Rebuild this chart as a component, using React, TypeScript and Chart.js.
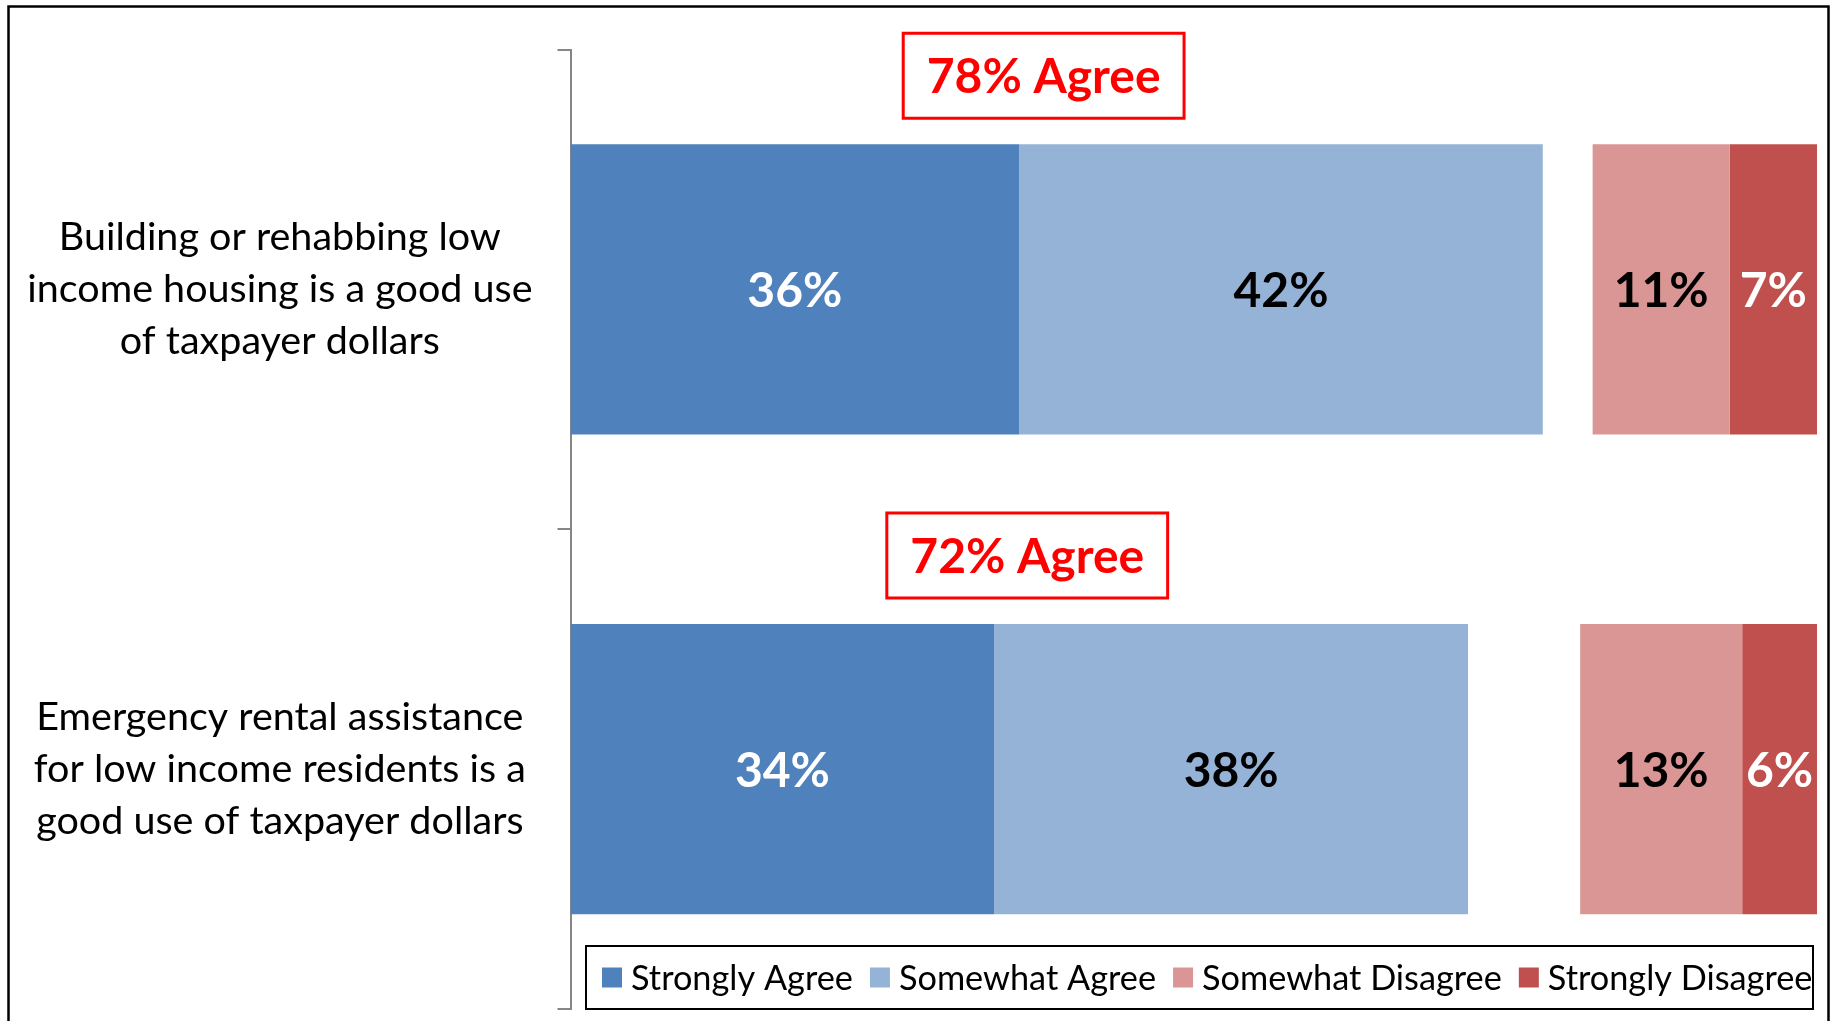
import React, { useEffect, useRef } from "react";
import { Chart, registerables } from "chart.js";

Chart.register(...registerables);

// ---------- data ----------
const categories: string[][] = [
  ["Building or rehabbing low", "income housing is a good use", "of taxpayer dollars"],
  ["Emergency rental assistance", "for low income residents is a", "good use of taxpayer dollars"],
];
const seriesNames = ["Strongly Agree", "Somewhat Agree", "Don't Know", "Somewhat Disagree", "Strongly Disagree"];
const stronglyAgree = [36, 34];
const somewhatAgree = [42, 38];
const dontKnow = [4, 9];
const somewhatDisagree = [11, 13];
const stronglyDisagree = [7, 6];

// ---------- styles ----------
const FONT = "Lato, 'Open Sans', 'DejaVu Sans', sans-serif";
const seriesColors = ["#4F81BD", "#95B3D7", "rgba(0,0,0,0)", "#DA9694", "#C0504D"];
const labelColors = ["#FFFFFF", "#000000", "", "#000000", "#FFFFFF"];
const hiddenSeries = [false, false, true, false, false];
const calloutNudge = [-13, 8];

const framePlugin = {
  id: "frame",
  beforeDraw(chart: any) {
    const ctx = chart.ctx;
    ctx.save();
    ctx.fillStyle = "#FFFFFF";
    ctx.fillRect(0, 0, chart.width, chart.height);
    ctx.strokeStyle = "#000000";
    ctx.lineWidth = 2.5;
    ctx.strokeRect(8.5, 6.5, 1820, chart.height + 20);
    ctx.restore();
  },
};

const dataLabelPlugin = {
  id: "dataLabels",
  afterDatasetsDraw(chart: any) {
    const ctx = chart.ctx;
    ctx.save();
    ctx.font = `bold 48px ${FONT}`;
    ctx.textAlign = "center";
    ctx.textBaseline = "middle";
    chart.data.datasets.forEach((ds: any, di: number) => {
      if (hiddenSeries[di]) return;
      const meta = chart.getDatasetMeta(di);
      meta.data.forEach((el: any, i: number) => {
        const v = ds.data[i];
        const cx = (el.x + el.base) / 2;
        ctx.fillStyle = labelColors[di];
        ctx.fillText(`${v}%`, cx, el.y + 2);
      });
    });
    ctx.restore();
  },
};

const calloutPlugin = {
  id: "callouts",
  afterDatasetsDraw(chart: any) {
    const ctx = chart.ctx;
    const m0 = chart.getDatasetMeta(0);
    const m1 = chart.getDatasetMeta(1);
    ctx.save();
    ctx.font = `bold 48px ${FONT}`;
    ctx.textAlign = "center";
    ctx.textBaseline = "middle";
    categories.forEach((_, i) => {
      const a = m0.data[i];
      const b = m1.data[i];
      const total = stronglyAgree[i] + somewhatAgree[i];
      const text = `${total}% Agree`;
      const cx = (a.base + b.x) / 2 + calloutNudge[i];
      const barTop = a.y - a.height / 2;
      const h = 85;
      const w = ctx.measureText(text).width + 47;
      const top = barTop - 26 - h;
      ctx.fillStyle = "#FFFFFF";
      ctx.fillRect(cx - w / 2, top, w, h);
      ctx.strokeStyle = "#FF0000";
      ctx.lineWidth = 3;
      ctx.strokeRect(cx - w / 2, top, w, h);
      ctx.fillStyle = "#FF0000";
      ctx.fillText(text, cx, top + h / 2 + 2);
    });
    ctx.restore();
  },
};

const legendBoxPlugin = {
  id: "legendBox",
  afterDraw(chart: any) {
    const ctx = chart.ctx;
    const ca = chart.chartArea;
    const left = ca.left + 15.5;
    const right = ca.right - 4;
    const bottom = ca.bottom;
    const top = bottom - 63;
    ctx.save();
    ctx.fillStyle = "#FFFFFF";
    ctx.fillRect(left, top, right - left, bottom - top);
    ctx.strokeStyle = "#000000";
    ctx.lineWidth = 2;
    ctx.strokeRect(left, top, right - left, bottom - top);
    ctx.font = `34.3px ${FONT}`;
    ctx.textBaseline = "middle";
    ctx.textAlign = "left";
    const cy = (top + bottom) / 2;
    let x = left + 16;
    chart.data.datasets.forEach((ds: any, di: number) => {
      if (hiddenSeries[di]) return;
      ctx.fillStyle = ds.backgroundColor;
      ctx.fillRect(x, cy - 10, 20, 20);
      x += 29;
      ctx.fillStyle = "#000000";
      ctx.fillText(ds.label, x, cy + 1);
      x += ctx.measureText(ds.label).width + 17;
    });
    ctx.restore();
  },
};

export default function App() {
  const ref = useRef<HTMLCanvasElement | null>(null);
  useEffect(() => {
    if (!ref.current) return;
    const values = [stronglyAgree, somewhatAgree, dontKnow, somewhatDisagree, stronglyDisagree];
    const chart = new Chart(ref.current, {
      type: "bar",
      data: {
        labels: categories,
        datasets: values.map((d, i) => ({
          label: seriesNames[i],
          data: d,
          backgroundColor: seriesColors[i],
          borderWidth: 0,
          barPercentage: 0.605,
          categoryPercentage: 1,
        })),
      },
      options: {
        indexAxis: "y",
        responsive: false,
        animation: false,
        devicePixelRatio: 1,
        layout: { padding: { left: 9, top: 49.5, right: 16, bottom: 12 } },
        plugins: { legend: { display: false }, tooltip: { enabled: false } },
        scales: {
          x: { type: "linear", stacked: true, min: 0, max: 100, display: false },
          y: {
            type: "category",
            stacked: true,
            grid: {
              display: true,
              drawOnChartArea: false,
              drawTicks: true,
              tickLength: 13,
              color: "#868686",
              lineWidth: 2,
              offset: true,
            },
            border: { display: true, color: "#868686", width: 2 },
            ticks: {
              color: "#000000",
              font: { family: FONT, size: 39.5, lineHeight: 1.316 },
              crossAlign: "center",
              padding: 25,
            },
            afterFit: (s: any) => {
              s.width = 561.5;
              s.paddingTop = 0;
              s.paddingBottom = 0;
            },
          },
        },
      } as any,
      plugins: [framePlugin, dataLabelPlugin, calloutPlugin, legendBoxPlugin],
    });
    return () => chart.destroy();
  }, []);
  return (
    <div style={{ position: "absolute", left: 0, top: 0, width: 1833, height: 1021, overflow: "hidden" }}>
      <canvas ref={ref} width={1833} height={1021} style={{ display: "block" }} />
    </div>
  );
}
